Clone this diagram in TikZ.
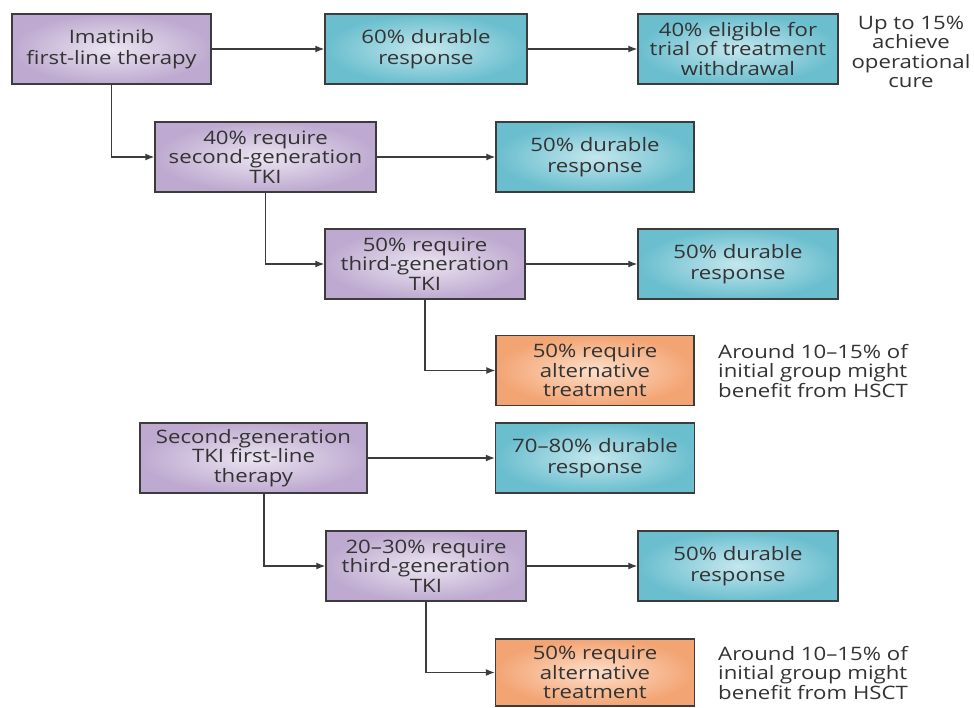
\documentclass[tikz,border=0pt]{standalone}
\usepackage{fontspec}
\setmainfont{Open Sans}[FakeStretch=1.2]
\usetikzlibrary{arrows.meta}
\definecolor{txt}{HTML}{333333}
\definecolor{edge}{HTML}{3C3C3C}
\definecolor{purpO}{HTML}{BEAAD0}
\definecolor{purpI}{HTML}{EBE4F1}
\definecolor{tealO}{HTML}{6ABECE}
\definecolor{tealI}{HTML}{C4E7EE}
\definecolor{orgO}{HTML}{F3A473}
\definecolor{orgI}{HTML}{FDDFCA}
\tikzset{
  box/.style={draw=edge, line width=1.4pt, inner sep=1pt, minimum height=70pt,
    align=center, text=txt, font=\fontsize{18.5}{19.5}\selectfont},
  two/.style={font=\fontsize{18.5}{21.5}\selectfont},
  purp/.style={box, inner color=purpI, outer color=purpO},
  teal/.style={box, inner color=tealI, outer color=tealO},
  org/.style={box, inner color=orgI, outer color=orgO},
  note/.style={align=center, text=txt, inner sep=0pt, font=\fontsize{18.5}{19.5}\selectfont},
  conn/.style={draw=edge, line width=1.3pt, -{Latex[length=9pt,width=7pt]}},
}
\begin{document}
\begin{tikzpicture}[x=1pt,y=-1pt]
\useasboundingbox[fill=white] (0,0) rectangle (974,707);
\node[purp, two, minimum width=199pt] (b1) at (111.5,49) {Imatinib\\first-line therapy};
\node[teal, two, minimum width=202pt] (b2) at (426,49) {60\% durable\\response};
\node[teal, minimum width=200pt] (b3) at (738,49) {40\% eligible for\\trial of treatment\\withdrawal};
\node[note] (n1) at (911,52) {Up to 15\%\\achieve\\operational\\cure};
\node[purp, minimum width=221pt] (b4) at (265.5,157) {40\% require\\second-generation\\TKI};
\node[teal, two, minimum width=198pt] (b5) at (595,157) {50\% durable\\response};
\node[purp, minimum width=200pt] (b6) at (425,264) {50\% require\\third-generation\\TKI};
\node[teal, two, minimum width=200pt] (b7) at (738,264) {50\% durable\\response};
\node[org, minimum width=198pt] (b8) at (595,370.5) {50\% require\\alternative\\treatment};
\node[note, align=left, anchor=west] (n2) at (718,371) {Around 10–15\% of\\initial group might\\benefit from HSCT};
\node[purp, minimum width=227pt] (b9) at (253.5,458) {Second-generation\\TKI first-line\\therapy};
\node[teal, two, minimum width=199pt] (b10) at (595,458) {70–80\% durable\\response};
\node[purp, minimum width=200pt] (b11) at (426,566) {20–30\% require\\third-generation\\TKI};
\node[teal, two, minimum width=200pt] (b12) at (738,566) {50\% durable\\response};
\node[org, minimum width=199pt, minimum height=67pt] (b13) at (595,672.5) {50\% require\\alternative\\treatment};
\node[note, align=left, anchor=west] (n3) at (718,673) {Around 10–15\% of\\initial group might\\benefit from HSCT};
\draw[conn] (b1) -- (b2);
\draw[conn] (b2) -- (b3);
\draw[conn] (b1.south) |- (b4.west);
\draw[conn] (b4) -- (b5);
\draw[conn] (b4.south) |- (b6.west);
\draw[conn] (b6) -- (b7);
\draw[conn] (b6.south) |- (b8.west);
\draw[conn] (b9) -- (b10);
\draw[conn] ([xshift=10.5pt]b9.south) |- (b11.west);
\draw[conn] (b11) -- (b12);
\draw[conn] (b11.south) |- (b13.west);
\end{tikzpicture}
\end{document}
